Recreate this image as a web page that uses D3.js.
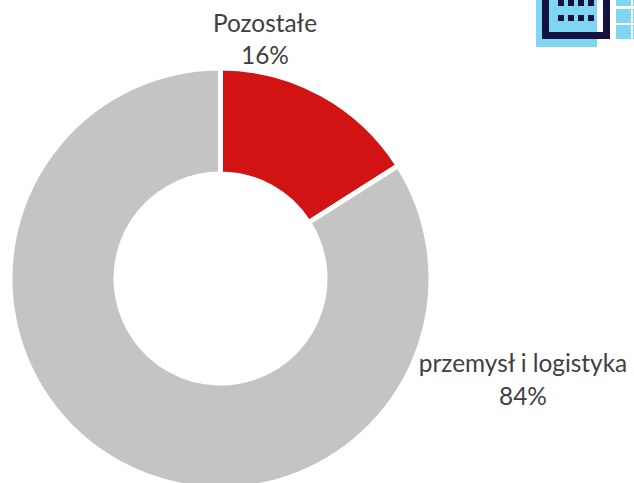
<!DOCTYPE html>
<html><head><meta charset="utf-8">
<script src="https://cdn.jsdelivr.net/npm/d3@7"></script>
<style>html,body{margin:0;padding:0;background:#fff;overflow:hidden}svg{display:block}
text{font-family:Lato,"Open Sans",sans-serif;fill:#404040;font-size:24.4px}</style></head><body>
<svg id="c" width="634" height="483"></svg>
<script>
const categories = ["Pozostałe", "przemysł i logistyka"];
const values = [16, 84];
const labels = ["16%", "84%"];
const colors = ["#d21313", "#c4c4c4"];

const svg = d3.select("#c");
// decorative logo fragment
const logo = svg.append("g");
logo.append("rect").attr("x",536).attr("y",-10).attr("width",61).attr("height",57).attr("fill","#7fd6f0");
logo.append("rect").attr("x",545.5).attr("y",-10).attr("width",61).attr("height",45.5).attr("fill","none").attr("stroke","#14123f").attr("stroke-width",7);
logo.selectAll("rect.d").data([[558,0],[568,0],[578,0],[588,0],[558,15],[568,15],[578,15],[588,15]]).enter().append("rect")
  .attr("x",d=>d[0]).attr("y",d=>d[1]).attr("width",6).attr("height",6).attr("fill","#14123f");
logo.selectAll("rect.s").data([[616,-8],[616,9],[616,25],[633,-8],[633,9],[633,25]]).enter().append("rect")
  .attr("x",d=>d[0]).attr("y",d=>d[1]).attr("width",15).attr("height",14).attr("fill","#7fd6f0");

const cx = 220.5, cy = 278.5, R = 210.5, r = 104.5;
const pie = d3.pie().sort(null)(values);
const arc = d3.arc().innerRadius(r).outerRadius(R);
svg.append("g").attr("transform",`translate(${cx},${cy})`)
  .selectAll("path").data(pie).enter().append("path")
  .attr("d",arc).attr("fill",(d,i)=>colors[i]).attr("stroke","#fff").attr("stroke-width",5);

const pos = [[265,32,64],[523,372,405]];
categories.forEach((c,i)=>{
  svg.append("text").attr("x",pos[i][0]).attr("y",pos[i][1]).attr("text-anchor","middle").text(c);
  svg.append("text").attr("x",pos[i][0]).attr("y",pos[i][2]).attr("text-anchor","middle").text(labels[i]);
});
</script></body></html>
